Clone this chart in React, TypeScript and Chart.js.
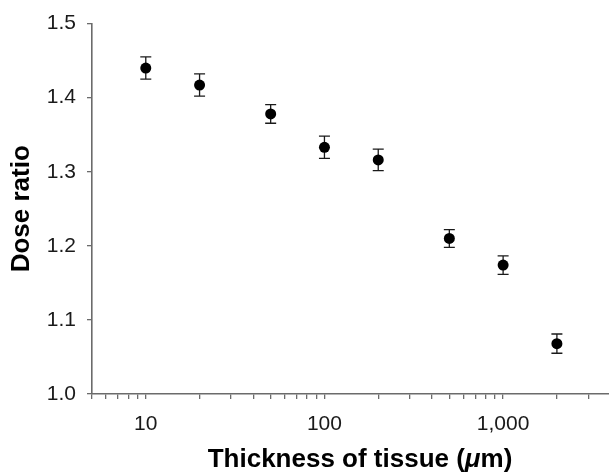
import React, { useEffect, useRef } from 'react';
import { Chart, registerables } from 'chart.js';

Chart.register(...registerables);

const thickness = [10, 20, 50, 100, 200, 500, 1000, 2000];
const doseRatio = [1.44, 1.417, 1.378, 1.333, 1.316, 1.21, 1.174, 1.068];
const doseError = [0.015, 0.015, 0.0125, 0.015, 0.0145, 0.012, 0.0125, 0.013];

const xTickValues = [
  5, 6, 7, 8, 9, 10, 20, 30, 40, 50, 60, 70, 80, 90, 100, 200, 300, 400, 500, 600, 700, 800, 900,
  1000, 2000, 3000, 4000, 5000,
];
const xLabelValues = [10, 100, 1000];
const yTickValues = [1.0, 1.1, 1.2, 1.3, 1.4, 1.5];

const FONT = "'Liberation Sans', Arial, sans-serif";
const AXIS_COLOR = '#6b6b6b';
const TEXT_COLOR = '#1a1a1a';

export default function App() {
  const ref = useRef<HTMLCanvasElement>(null);

  useEffect(() => {
    document.body.style.margin = '0';
    const canvas = ref.current;
    if (!canvas) return;

    const errorBars = {
      id: 'errorBars',
      beforeDatasetsDraw(chart: any) {
        const ctx = chart.ctx;
        const xs = chart.scales.x;
        const ys = chart.scales.y;
        ctx.save();
        ctx.strokeStyle = '#1a1a1a';
        ctx.lineWidth = 1.3;
        const cap = 5.5;
        thickness.forEach((t, i) => {
          const px = xs.getPixelForValue(t);
          const top = ys.getPixelForValue(doseRatio[i] + doseError[i]);
          const bot = ys.getPixelForValue(doseRatio[i] - doseError[i]);
          ctx.beginPath();
          ctx.moveTo(px, top);
          ctx.lineTo(px, bot);
          ctx.moveTo(px - cap, top);
          ctx.lineTo(px + cap, top);
          ctx.moveTo(px - cap, bot);
          ctx.lineTo(px + cap, bot);
          ctx.stroke();
        });
        ctx.restore();
      },
    };

    const xTitle = {
      id: 'xTitle',
      afterDraw(chart: any) {
        const ctx = chart.ctx;
        const area = chart.chartArea;
        const parts = [
          { text: 'Thickness of tissue (', font: `bold 26px ${FONT}` },
          { text: 'μ', font: `italic bold 26px ${FONT}` },
          { text: 'm)', font: `bold 26px ${FONT}` },
        ];
        ctx.save();
        let total = 0;
        const widths = parts.map((p) => {
          ctx.font = p.font;
          const w = ctx.measureText(p.text).width;
          total += w;
          return w;
        });
        let x = (area.left + area.right) / 2 - total / 2;
        const y = area.bottom + 73;
        ctx.fillStyle = '#000';
        ctx.textBaseline = 'alphabetic';
        ctx.textAlign = 'left';
        parts.forEach((p, i) => {
          ctx.font = p.font;
          ctx.fillText(p.text, x, y);
          x += widths[i];
        });
        ctx.restore();
      },
    };

    const chart = new Chart(canvas, {
      type: 'scatter',
      data: {
        datasets: [
          {
            label: 'Dose ratio',
            data: thickness.map((t, i) => ({ x: t, y: doseRatio[i] })),
            backgroundColor: '#000',
            borderColor: '#000',
            pointRadius: 5.5,
            pointHoverRadius: 5.5,
            borderWidth: 0,
          },
        ],
      },
      options: {
        animation: false,
        responsive: false,
        devicePixelRatio: 1,
        layout: { padding: { top: 22, right: 1, left: 0, bottom: 0 } },
        plugins: {
          legend: { display: false },
          tooltip: { enabled: false },
        },
        scales: {
          x: {
            type: 'logarithmic',
            min: 5,
            max: 5000,
            afterBuildTicks: (scale: any) => {
              scale.ticks = xTickValues.map((v) => ({ value: v, major: xLabelValues.includes(v) }));
            },
            afterFit: (scale: any) => {
              scale.height = 78;
            },
            ticks: {
              autoSkip: false,
              maxRotation: 0,
              padding: 13,
              color: TEXT_COLOR,
              font: { family: FONT, size: 21 },
              callback: (v: any) =>
                xLabelValues.includes(Number(v)) ? Number(v).toLocaleString('en-US') : '',
            },
            grid: {
              display: true,
              drawOnChartArea: false,
              drawTicks: true,
              tickLength: 5,
              color: AXIS_COLOR,
              lineWidth: 1.3,
            },
            border: { display: true, color: AXIS_COLOR, width: 1.6 },
            title: { display: false },
          },
          y: {
            type: 'linear',
            min: 1.0,
            max: 1.5,
            afterBuildTicks: (scale: any) => {
              scale.ticks = yTickValues.map((v) => ({ value: v }));
            },
            afterFit: (scale: any) => {
              scale.width = 92;
            },
            ticks: {
              padding: 11,
              color: TEXT_COLOR,
              font: { family: FONT, size: 21 },
              callback: (v: any) => Number(v).toFixed(1),
            },
            grid: {
              display: true,
              drawOnChartArea: false,
              drawTicks: true,
              tickLength: 5,
              color: AXIS_COLOR,
              lineWidth: 1.3,
            },
            border: { display: true, color: AXIS_COLOR, width: 1.6 },
            title: {
              display: true,
              text: 'Dose ratio',
              color: '#000',
              font: { family: FONT, size: 26, weight: 'bold' },
              padding: { top: 6, bottom: 0 },
            },
          },
        },
      },
      plugins: [errorBars, xTitle],
    });

    return () => chart.destroy();
  }, []);

  return (
    <div style={{ width: 609, height: 472, overflow: 'hidden', position: 'relative' }}>
      <canvas ref={ref} width={641} height={472} style={{ width: 641, height: 472, display: 'block' }} />
    </div>
  );
}
